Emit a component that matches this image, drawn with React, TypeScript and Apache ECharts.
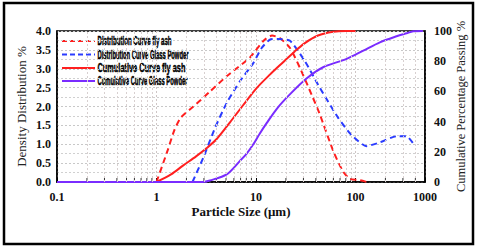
import React, { useEffect, useRef } from "react";
import * as echarts from "echarts";

// Particle size (µm) and values
const flyAshDistribution: number[][] = [
  [1.0, 0], [1.3, 0.85], [1.5, 1.35], [1.75, 1.7], [2.35, 2.0], [3.0, 2.25],
  [3.45, 2.4], [5.07, 2.8], [8.7, 3.3], [12, 3.75], [14.5, 3.88], [17.4, 3.81],
  [22, 3.55], [27.7, 3.02], [36.3, 2.31], [44, 1.78], [60, 0.81], [75, 0.28],
  [88, 0.08], [110, 0.05], [130, 0],
];
const glassDistribution: number[][] = [
  [2.3, 0], [2.95, 0.64], [3.87, 1.43], [5.07, 2.09], [6.9, 2.67], [9.4, 3.15],
  [11.4, 3.55], [13.8, 3.77], [16.5, 3.79], [22, 3.74], [31, 3.2], [44, 2.49],
  [67, 1.7], [91, 1.25], [129, 0.95], [176, 1.05], [259, 1.21], [326, 1.21],
  [385, 1.0],
];
const flyAshCumulative: number[][] = [
  [1.0, 0], [1.4, 5], [1.86, 11], [2.5, 17], [3.2, 22.5], [4.03, 28.5],
  [5.48, 39.5], [7.45, 51], [10.2, 62.3], [13.8, 71.1], [18.5, 79], [24.5, 86.5],
  [31, 92], [42, 97], [60, 99.5], [80, 100], [100, 100],
];
const glassCumulative: number[][] = [
  [0.1, 0], [2.9, 0], [3.45, 1], [5.07, 5], [6.9, 14], [8.1, 19], [9.4, 25],
  [10.9, 32], [12.8, 39], [16.2, 48.5], [21.9, 58], [32.2, 68.5], [47.3, 76],
  [81.5, 81.5], [120, 87], [176, 92.5], [259, 96.5], [326, 98.5], [381, 99.8],
  [476, 100],
];

const seriesNames = [
  "Distribution Curve fly ash",
  "Distribution Curve Glass Powder",
  "Cumulative Curve fly ash",
  "Cumulative Curve Glass Powder",
];
// log-axis minor tick positions (2..9 of each decade)
const minorTickValues = [
  0.2, 0.3, 0.4, 0.5, 0.6, 0.7, 0.8, 0.9,
  2, 3, 4, 5, 6, 7, 8, 9,
  20, 30, 40, 50, 60, 70, 80, 90,
  200, 300, 400,
];
const xTickLabels: Record<string, string> = { "0.1": "0.1", "1": "1", "10": "10", "100": "100", "500": "1000" };
const leftTicks = { min: 0, max: 4, interval: 0.5 };
const rightTicks = { min: 0, max: 100, interval: 20 };

const RED = "#ff1f1f";
const BLUE = "#2b3cff";
const PURPLE = "#7a2cff";
const serif = "'Liberation Serif', 'Times New Roman', serif";
const legendFont = "bold 12.5px 'Liberation Sans', Arial, sans-serif";

export default function App() {
  const ref = useRef<HTMLDivElement>(null);
  useEffect(() => {
    document.body.style.margin = "0";
    const chart = echarts.init(ref.current!, null, { renderer: "svg" });

    // condensed legend (narrow bold face) built from graphic elements
    const ctx = document.createElement("canvas").getContext("2d")!;
    ctx.font = legendFont;
    const legendRows = [41, 54.5, 68, 81];
    const legendWidths = [74, 91, 88, 90];
    const legendColors = [RED, BLUE, RED, PURPLE];
    const legendDashed = [true, true, false, false];
    const legendChildren: any[] = [
      { type: "rect", shape: { x: 58, y: 33, width: 134, height: 55 }, style: { fill: "#fff" } },
    ];
    seriesNames.forEach((name, i) => {
      const w = ctx.measureText(name).width || 150;
      legendChildren.push({
        type: "line",
        shape: { x1: 62, y1: legendRows[i], x2: 95, y2: legendRows[i] },
        style: { stroke: legendColors[i], lineWidth: 2, lineDash: legendDashed[i] ? [5, 3] : null },
      });
      legendChildren.push({
        type: "text",
        x: 97.5, y: legendRows[i],
        scaleX: legendWidths[i] / w,
        style: {
          text: name, font: legendFont, fill: "#000", stroke: "#000", lineWidth: 0.5,
          verticalAlign: "middle", align: "left",
        },
      });
    });

    chart.setOption({
      animation: false,
      backgroundColor: "#ffffff",
      graphic: [
        { type: "group", children: legendChildren, z: 50 },
        {
          type: "rect",
          shape: { x: 4, y: 3, width: 469, height: 241 },
          style: { fill: "none", stroke: "#000", lineWidth: 2.5 },
          z: 100,
        },
      ],
      grid: {
        left: 57, right: 55, top: 31, bottom: 67,
        outerBoundsMode: "none", containLabel: false,
        show: true, borderColor: "#000", borderWidth: 1.5, backgroundColor: "#fff",
      },
      xAxis: {
        type: "log",
        min: 0.1, max: 500, logBase: 10,
        name: "Particle Size (μm)",
        nameLocation: "middle", nameGap: 23, nameMoveOverlap: false,
        nameTextStyle: { fontFamily: serif, fontWeight: "bold", fontSize: 13, color: "#111" },
        axisLine: { show: true, lineStyle: { color: "#000", width: 1.5 } },
        axisTick: { show: true, inside: true, length: 4, lineStyle: { color: "#000" } },
        axisLabel: {
          margin: 9, fontFamily: serif, fontWeight: "bold", fontSize: 12, color: "#111",
          showMaxLabel: true,
          formatter: (v: number) => xTickLabels[String(+v.toPrecision(3))] ?? "",
        },
        splitLine: { show: true, lineStyle: { color: "#cfc6c6", type: [2, 2], width: 1 } },
      },
      yAxis: [
        {
          type: "value", ...leftTicks,
          name: "Density Distribution %",
          nameLocation: "middle", nameGap: 29, nameRotate: 90, nameMoveOverlap: false,
          nameTextStyle: { fontFamily: serif, fontSize: 13, color: "#222" },
          axisLine: { show: true, lineStyle: { color: "#000", width: 1.5 } },
          axisTick: { show: false },
          axisLabel: {
            margin: 6, fontFamily: serif, fontWeight: "bold", fontSize: 12, color: "#111",
            formatter: (v: number) => v.toFixed(1),
          },
          splitLine: { show: true, lineStyle: { color: "#c8c8c8", type: [2, 2] } },
          minorTick: { show: false, splitNumber: 2 },
          minorSplitLine: { show: true, lineStyle: { color: "#d0d0d0", type: [2, 2] } },
        },
        {
          type: "value", ...rightTicks,
          name: "Cumulative Percentage Passing %",
          nameLocation: "middle", nameGap: 29, nameRotate: 90, nameMoveOverlap: false,
          nameTextStyle: { fontFamily: serif, fontSize: 12.5, color: "#222" },
          axisLine: { show: true, lineStyle: { color: "#000", width: 1.5 } },
          axisTick: { show: false },
          axisLabel: { margin: 9, fontFamily: serif, fontWeight: "bold", fontSize: 12, color: "#111" },
          splitLine: { show: false },
        },
      ],
      series: [
        {
          name: "minor grid", type: "scatter", yAxisIndex: 0, silent: true, z: 1,
          data: minorTickValues.map((v) => [v, 0]),
          symbol: "rect", symbolSize: [1, 4], symbolOffset: [0, -2],
          itemStyle: { color: "#000" },
          markLine: {
            silent: true, symbol: "none", label: { show: false },
            lineStyle: { color: "#d8d0d0", type: [2, 2], width: 1 },
            data: minorTickValues.map((v) => ({ xAxis: v })),
          },
        },
        {
          name: seriesNames[0], type: "line", data: flyAshDistribution, yAxisIndex: 0,
          symbol: "none", smooth: 0.2, color: RED, z: 3,
          lineStyle: { color: RED, width: 2, type: [6, 4] },
        },
        {
          name: seriesNames[1], type: "line", data: glassDistribution, yAxisIndex: 0,
          symbol: "none", smooth: 0.2, color: BLUE, z: 3,
          lineStyle: { color: BLUE, width: 2, type: [6, 4] },
        },
        {
          name: seriesNames[2], type: "line", data: flyAshCumulative, yAxisIndex: 1,
          symbol: "none", smooth: 0.3, color: RED, z: 3,
          lineStyle: { color: RED, width: 2 },
        },
        {
          name: seriesNames[3], type: "line", data: glassCumulative, yAxisIndex: 1,
          symbol: "none", smooth: 0.3, color: PURPLE, z: 3,
          lineStyle: { color: PURPLE, width: 2 },
        },
      ],
    });
    return () => chart.dispose();
  }, []);
  return <div ref={ref} style={{ width: 480, height: 249 }} />;
}
